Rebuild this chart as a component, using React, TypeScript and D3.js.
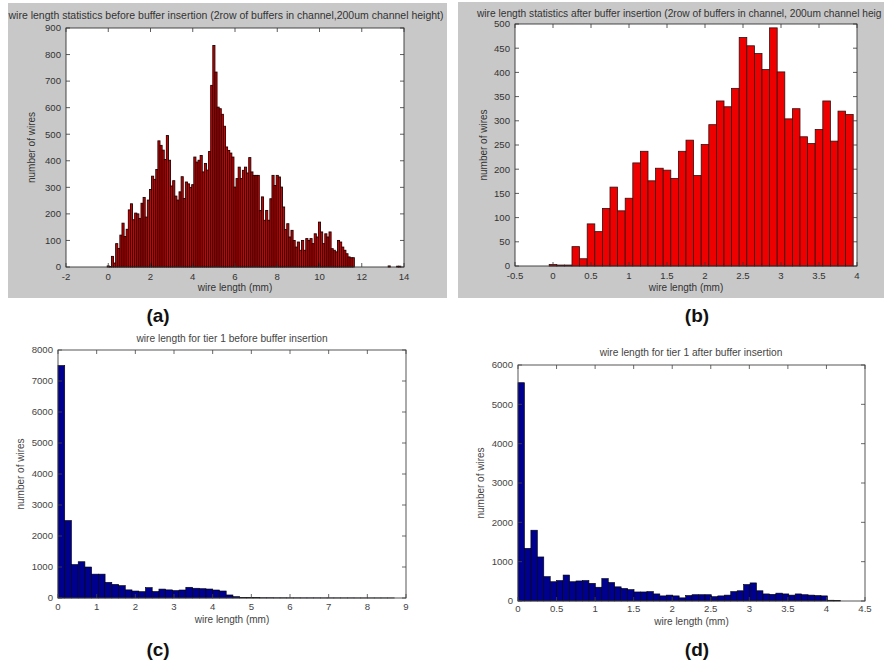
import React from "react";
import * as d3 from "d3";

// (a) wire length before buffer insertion, 0.1 mm bins centred on 0.0, 0.1, ...
const beforeCounts = [
  4, 2, 40, 15, 88, 70, 120, 165, 115, 142,
  215, 238, 178, 203, 200, 183, 240, 262, 188, 252,
  292, 342, 330, 367, 475, 458, 440, 405, 495, 402,
  305, 325, 267, 252, 283, 340, 258, 320, 313, 300,
  310, 414, 395, 402, 420, 358, 390, 365, 435, 684,
  834, 734, 602, 596, 575, 530, 452, 439, 429, 414,
  301, 333, 376, 333, 364, 376, 354, 412, 358, 345,
  345, 345, 213, 264, 176, 213, 176, 257, 345, 307,
  345, 339, 301, 226, 141, 163, 113, 138, 100, 75,
  94, 63, 100, 63, 107, 100, 107, 88, 125, 113,
  169, 132, 88, 125, 113, 132, 69, 63, 57, 100,
  94, 75, 63, 50, 38, 35, 35, 0, 0, 0,
  0, 0, 0, 0, 0, 0, 0, 0, 0, 0,
  0, 0, 0, 4, 0, 0, 0, 3, 3,
];
const beforeFirstCentre = 0;
const beforeBinWidth = 0.1;

// (b) wire length after buffer insertion, 0.1 mm bins centred on 0.0, 0.1, ...
const afterCounts = [
  3, 2, 2, 40, 15, 87, 71, 119, 163, 114,
  140, 213, 237, 176, 202, 198, 181, 237, 260, 187,
  251, 292, 341, 329, 367, 472, 455, 439, 406, 492,
  401, 304, 325, 267, 253, 282, 341, 258, 320, 313,
];
const afterFirstCentre = 0;
const afterBinWidth = 0.1;

// (c) tier 1 before buffer insertion, 50 bins from 0 to 8.7 mm
const tierBeforeCounts = [
  7500, 2500, 1080, 1170, 1000, 770, 770, 505, 440, 400,
  262, 225, 205, 335, 210, 288, 262, 240, 258, 346,
  315, 300, 290, 258, 226, 98, 44, 14, 12, 10,
  8, 8, 6, 6, 5, 5, 4, 4, 4, 3,
  3, 3, 3, 3, 2, 2, 2, 2, 2, 2,
];
const tierBeforeMax = 8.7;

// (d) tier 1 after buffer insertion, 50 bins from 0 to 4.18 mm
const tierAfterCounts = [
  5550, 1340, 1800, 1120, 620, 490, 520, 660, 490, 510,
  520, 450, 350, 570, 470, 360, 320, 290, 230, 230,
  240, 180, 130, 150, 130, 80, 140, 160, 160, 160,
  110, 130, 150, 240, 260, 420, 460, 260, 180, 170,
  200, 180, 150, 180, 160, 150, 140, 130, 20, 15,
];
const tierAfterMax = 4.18;

const aXTicks = [-2, 0, 2, 4, 6, 8, 10, 12, 14];
const aYTicks = [0, 100, 200, 300, 400, 500, 600, 700, 800, 900];
const bXTicks = [-0.5, 0, 0.5, 1, 1.5, 2, 2.5, 3, 3.5, 4];
const bYTicks = [0, 50, 100, 150, 200, 250, 300, 350, 400, 450, 500];
const cXTicks = [0, 1, 2, 3, 4, 5, 6, 7, 8, 9];
const cYTicks = [0, 1000, 2000, 3000, 4000, 5000, 6000, 7000, 8000];
const dXTicks = [0, 0.5, 1, 1.5, 2, 2.5, 3, 3.5, 4, 4.5];
const dYTicks = [0, 1000, 2000, 3000, 4000, 5000, 6000];

const titleA =
  "wire length statistics before buffer insertion (2row of buffers in channel,200um channel height)";
// the source figure is cropped here, so only this much of the title shows
const titleB =
  "wire length statistics after buffer insertion (2row of buffers in channel, 200um channel heig";
const titleC = "wire length for tier 1 before buffer insertion";
const titleD = "wire length for tier 1 after buffer insertion";

const FONT = "'Liberation Sans', Arial, Helvetica, sans-serif";

type Bin = { x0: number; x1: number; n: number };

function Histogram(p: any) {
  const x = d3.scaleLinear().domain(p.xDomain).range([p.left, p.right]);
  const y = d3.scaleLinear().domain(p.yDomain).range([p.bottom, p.top]);
  const bins: Bin[] = p.bins;
  const tl = 4;
  const ink = p.ink || "#333";
  return (
    <g>
      {p.frame && (
        <rect x={p.frame[0]} y={p.frame[1]} width={p.frame[2]} height={p.frame[3]} fill="#c8c8c8" />
      )}
      <rect x={p.left} y={p.top} width={p.right - p.left} height={p.bottom - p.top} fill="#fff" />
      {bins
        .filter((b) => b.n > 0)
        .map((b, i) => (
          <rect
            key={i}
            x={x(b.x0)}
            y={y(b.n)}
            width={x(b.x1) - x(b.x0)}
            height={y(0) - y(b.n)}
            fill={p.fill}
            stroke={p.stroke}
            strokeWidth={p.strokeWidth}
          />
        ))}
      {/* ticks, MATLAB style: inward on all four sides */}
      {p.xTicks.map((t: number) => (
        <g key={"x" + t} stroke={ink} strokeWidth={0.8}>
          <line x1={x(t)} x2={x(t)} y1={p.bottom} y2={p.bottom - tl} />
          <line x1={x(t)} x2={x(t)} y1={p.top} y2={p.top + tl} />
        </g>
      ))}
      {p.yTicks.map((t: number) => (
        <g key={"y" + t} stroke={ink} strokeWidth={0.8}>
          <line x1={p.left} x2={p.left + tl} y1={y(t)} y2={y(t)} />
          <line x1={p.right} x2={p.right - tl} y1={y(t)} y2={y(t)} />
        </g>
      ))}
      <rect
        x={p.left}
        y={p.top}
        width={p.right - p.left}
        height={p.bottom - p.top}
        fill="none"
        stroke={ink}
        strokeWidth={0.9}
      />
      <g fontFamily={FONT} fontSize={9.6} fill={ink}>
        {p.xTicks.map((t: number) => (
          <text key={"xl" + t} x={x(t)} y={p.xTickY} textAnchor="middle">
            {String(t)}
          </text>
        ))}
        {p.yTicks.map((t: number) => (
          <text key={"yl" + t} x={p.left - 5} y={y(t)} dy="0.35em" textAnchor="end">
            {String(t)}
          </text>
        ))}
        <text x={p.titleX} y={p.titleY} textAnchor={p.titleAnchor} fontSize={p.titleSize}>
          {p.title}
        </text>
        <text x={(p.left + p.right) / 2} y={p.xLabelY} textAnchor="middle" fontSize={10}>
          wire length (mm)
        </text>
        <text
          transform={`translate(${p.yLabelX},${(p.top + p.bottom) / 2}) rotate(-90)`}
          textAnchor="middle"
          fontSize={10}
        >
          number of wires
        </text>
      </g>
    </g>
  );
}

function centredBins(counts: number[], first: number, w: number): Bin[] {
  return counts.map((n, i) => ({ x0: first + i * w - w / 2, x1: first + i * w + w / 2, n }));
}

function spanBins(counts: number[], max: number): Bin[] {
  const w = max / counts.length;
  return counts.map((n, i) => ({ x0: i * w, x1: (i + 1) * w, n }));
}

export default function App() {
  const label = { fontFamily: FONT, fontSize: 19, fontWeight: 700, fill: "#111" } as const;
  return (
    <svg
      width={884}
      height={663}
      style={{ position: "absolute", left: 0, top: 0, background: "#fff" }}
    >
      <Histogram
        frame={[8, 3, 439, 295]}
        left={66}
        right={404}
        top={28}
        bottom={267}
        xDomain={[-2, 14]}
        yDomain={[0, 900]}
        xTicks={aXTicks}
        yTicks={aYTicks}
        bins={centredBins(beforeCounts, beforeFirstCentre, beforeBinWidth)}
        fill="#d00000"
        stroke="#220000"
        strokeWidth={0.9}
        title={titleA}
        titleX={226}
        titleY={19}
        titleAnchor="middle"
        titleSize={10.5}
        xTickY={280}
        xLabelY={291}
        yLabelX={35}
      />
      <Histogram
        frame={[458, 2, 426, 296]}
        left={515}
        right={857}
        top={24}
        bottom={266}
        xDomain={[-0.5, 4]}
        yDomain={[0, 500]}
        xTicks={bXTicks}
        yTicks={bYTicks}
        bins={centredBins(afterCounts, afterFirstCentre, afterBinWidth)}
        fill="#ee0000"
        stroke="#301010"
        strokeWidth={0.8}
        title={titleB}
        titleX={477}
        titleY={17}
        titleAnchor="start"
        titleSize={10.2}
        xTickY={279}
        xLabelY={291}
        yLabelX={487}
      />
      <Histogram
        left={58}
        right={406}
        top={350}
        bottom={598}
        xDomain={[0, 9]}
        yDomain={[0, 8000]}
        xTicks={cXTicks}
        yTicks={cYTicks}
        bins={spanBins(tierBeforeCounts, tierBeforeMax)}
        fill="#00008f"
        stroke="#000"
        strokeWidth={0.6}
        ink="#444"
        title={titleC}
        titleX={232}
        titleY={342}
        titleAnchor="middle"
        titleSize={10.2}
        xTickY={610}
        xLabelY={623}
        yLabelX={24}
      />
      <Histogram
        left={518}
        right={865}
        top={365}
        bottom={601}
        xDomain={[0, 4.5]}
        yDomain={[0, 6000]}
        xTicks={dXTicks}
        yTicks={dYTicks}
        bins={spanBins(tierAfterCounts, tierAfterMax)}
        fill="#00008f"
        stroke="#000"
        strokeWidth={0.6}
        ink="#444"
        title={titleD}
        titleX={691}
        titleY={356}
        titleAnchor="middle"
        titleSize={10.2}
        xTickY={612}
        xLabelY={625}
        yLabelX={484}
      />
      <text x={158} y={322} textAnchor="middle" {...label}>(a)</text>
      <text x={697} y={322} textAnchor="middle" {...label}>(b)</text>
      <text x={158} y={656} textAnchor="middle" {...label}>(c)</text>
      <text x={697} y={656} textAnchor="middle" {...label}>(d)</text>
    </svg>
  );
}
